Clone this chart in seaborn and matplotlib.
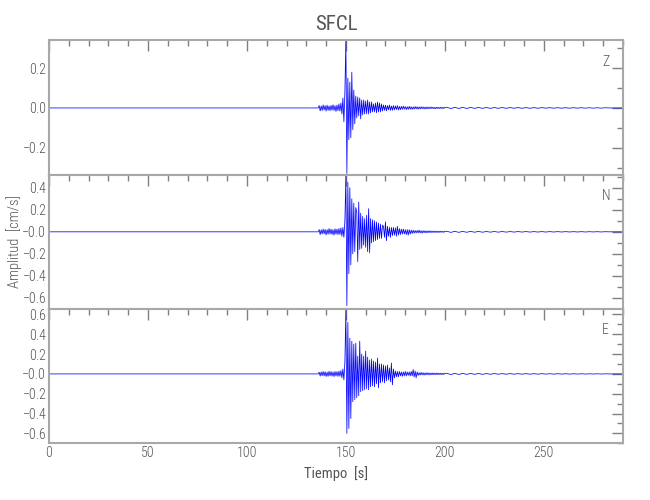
import numpy as np
import pandas as pd
import matplotlib
matplotlib.use("Agg")
import matplotlib.pyplot as plt
import seaborn as sns
from matplotlib import font_manager
from matplotlib.ticker import MultipleLocator, FixedLocator, FixedFormatter

# ---------------- data ----------------
station = "SFCL"
components = ["Z", "N", "E"]
x_label = "Tiempo  [s]"
y_label = "Amplitud  [cm/s]"

x_max = 290.0
record_start = 136.0        # flat (zero-padded) before this time
pre_t0, pre_step = 136.5, 0.5
main_t0, main_step = 148.5, 0.5
coda_t0, coda_step = 201.0, 2.0
record_end = 283.0

# pre-event noise (136.5 .. 148.0 s)
z_pre = [0.012, -0.015, 0.010, -0.013, 0.015, -0.010, 0.012, -0.016, 0.014, -0.012, 0.010, -0.014,
         0.013, -0.011, 0.016, -0.013, 0.012, -0.018, 0.015, -0.014, 0.020, -0.016, 0.025, -0.030]
n_pre = [0.020, -0.025, 0.018, -0.020, 0.025, -0.018, 0.022, -0.028, 0.020, -0.022, 0.030, -0.020,
         0.025, -0.024, 0.020, -0.030, 0.028, -0.022, 0.025, -0.026, 0.030, -0.025, 0.035, -0.040]
e_pre = [0.018, -0.022, 0.020, -0.018, 0.025, -0.020, 0.022, -0.026, 0.018, -0.024, 0.027, -0.020,
         0.024, -0.022, 0.020, -0.027, 0.025, -0.021, 0.024, -0.025, 0.028, -0.024, 0.035, -0.040]

# main phase (148.5 .. 200.0 s)
z_main = [0.05, -0.07, 0.08, 0.345, -0.33, 0.15, -0.16, 0.13, -0.15, 0.18,
          -0.11, 0.09, -0.08, 0.06, -0.05, 0.055, -0.04, 0.05, -0.055, 0.04,
          -0.035, 0.04, -0.03, 0.035, -0.03, 0.04, -0.03, 0.03, -0.025, 0.03,
          -0.02, 0.02, -0.02, 0.025, -0.024, 0.03, -0.02, 0.025, -0.02, 0.02,
          -0.015, 0.015, -0.012, 0.014, -0.015, 0.012, -0.01, 0.015, -0.012, 0.01,
          -0.012, 0.012, -0.01, 0.01, -0.008, 0.012, -0.01, 0.008, -0.009, 0.008,
          -0.007, 0.009, -0.006, 0.007, -0.008, 0.006, -0.007, 0.008, -0.006, 0.006,
          -0.007, 0.005, -0.006, 0.007, -0.005, 0.006, -0.006, 0.005, -0.005, 0.006,
          -0.004, 0.005, -0.005, 0.004, -0.005, 0.005, -0.004, 0.004, -0.004, 0.005,
          -0.003, 0.004, -0.004, 0.003, -0.004, 0.004, -0.003, 0.003, -0.003, 0.004,
          -0.003, 0.003, -0.003, 0.003]
n_main = [0.04, -0.05, 0.10, 0.515, -0.67, 0.45, -0.38, 0.40, -0.30, 0.30,
          -0.20, 0.26, -0.18, 0.22, 0.18, -0.27, 0.27, -0.16, 0.17, -0.15,
          0.14, -0.12, 0.12, -0.14, 0.15, -0.18, 0.21, -0.19, 0.12, -0.10,
          0.11, -0.09, 0.10, -0.08, 0.09, -0.07, 0.08, -0.06, 0.07, -0.06,
          0.06, 0.05, -0.05, 0.09, -0.08, 0.05, -0.04, 0.04, -0.05, 0.04,
          -0.035, 0.04, -0.03, 0.035, -0.04, 0.05, -0.03, 0.03, -0.025, 0.025,
          -0.02, 0.025, -0.02, 0.02, -0.025, 0.02, -0.03, 0.02, -0.02, 0.015,
          -0.015, 0.015, -0.012, 0.012, -0.01, 0.012, -0.01, 0.015, -0.01, 0.01,
          -0.012, 0.01, -0.008, 0.01, -0.009, 0.008, -0.008, 0.009, -0.007, 0.008,
          -0.007, 0.007, -0.006, 0.007, -0.006, 0.006, -0.006, 0.006, -0.005, 0.006,
          -0.005, 0.005, -0.005, 0.005]
e_main = [0.05, -0.06, 0.12, 0.655, -0.60, 0.52, -0.55, 0.36, -0.45, 0.33,
          -0.28, 0.30, -0.26, 0.31, -0.24, 0.18, -0.22, 0.33, -0.18, 0.20,
          -0.17, 0.18, -0.16, 0.23, -0.15, 0.17, -0.16, 0.14, -0.13, 0.15,
          -0.12, 0.13, -0.13, 0.12, -0.10, 0.16, -0.14, 0.10, -0.09, 0.10,
          -0.08, 0.09, -0.09, 0.08, -0.07, 0.09, -0.06, 0.06, -0.08, 0.11,
          -0.11, 0.05, -0.04, 0.03, -0.03, 0.025, -0.03, 0.025, -0.02, 0.02,
          -0.025, 0.02, -0.02, 0.025, -0.02, 0.02, -0.015, 0.02, -0.02, 0.025,
          -0.02, 0.045, -0.03, 0.03, -0.04, 0.02, -0.015, 0.012, -0.012, 0.015,
          -0.01, 0.012, -0.012, 0.01, -0.01, 0.012, -0.009, 0.01, -0.01, 0.009,
          -0.008, 0.01, -0.008, 0.008, -0.008, 0.009, -0.007, 0.008, -0.007, 0.007,
          -0.007, 0.007, -0.006, 0.006]

# late coda (201 .. 281 s, every 2 s)
z_coda = [0.003, -0.003, 0.003, -0.0025, 0.003, -0.0025, 0.0025, -0.002, 0.0025, -0.002,
          0.002, -0.002, 0.002, -0.0018, 0.002, -0.0018, 0.0018, -0.0015, 0.0018, -0.0015,
          0.0015, -0.0015, 0.0015, -0.0015, 0.0015, -0.0012, 0.0015, -0.0012, 0.0012, -0.0012,
          0.0012, -0.0012, 0.0012, -0.001, 0.0012, -0.001, 0.001, -0.001, 0.001, -0.001, 0.001]
n_coda = [0.005, -0.005, 0.0045, -0.0045, 0.004, -0.004, 0.004, -0.0035, 0.0035, -0.0035,
          0.003, -0.003, 0.003, -0.003, 0.0028, -0.0028, 0.0025, -0.0025, 0.0025, -0.0022,
          0.0022, -0.0022, 0.002, -0.002, 0.002, -0.002, 0.002, -0.0018, 0.0018, -0.0018,
          0.0018, -0.0015, 0.0015, -0.0015, 0.0015, -0.0015, 0.0012, -0.0012, 0.0012, -0.0012, 0.001]
e_coda = [0.006, -0.006, 0.005, -0.005, 0.005, -0.0045, 0.0045, -0.004, 0.004, -0.004,
          0.0035, -0.0035, 0.0035, -0.003, 0.003, -0.003, 0.003, -0.0028, 0.0028, -0.0025,
          0.0025, -0.0025, 0.0022, -0.0022, 0.0022, -0.002, 0.002, -0.002, 0.002, -0.0018,
          0.0018, -0.0018, 0.0015, -0.0015, 0.0015, -0.0015, 0.0012, -0.0012, 0.0012, -0.0012, 0.001]

# y ranges and tick labels per component
y_limits = {"Z": (-0.335, 0.342), "N": (-0.70, 0.52), "E": (-0.70, 0.655)}
z_ticks = [-0.2, 0.0, 0.2]
z_tick_labels = ["\u22120.2", "0.0", "0.2"]
n_ticks = [-0.6, -0.4, -0.2, 0.0, 0.2, 0.4]
n_tick_labels = ["\u22120.6", "\u22120.4", "\u22120.2", "\u22120.0", "0.2", "0.4"]
e_ticks = [-0.6, -0.4, -0.2, 0.0, 0.2, 0.4, 0.6]
e_tick_labels = ["\u22120.6", "\u22120.4", "\u22120.2", "\u22120.0", "0.2", "0.4", "0.6"]
x_ticks = [0, 50, 100, 150, 200, 250]
x_tick_labels = ["0", "50", "100", "150", "200", "250"]

# ---------------- assemble traces ----------------
def build_trace(pre, main, coda):
    t = np.concatenate([
        [0.0, record_start],
        pre_t0 + pre_step * np.arange(len(pre)),
        main_t0 + main_step * np.arange(len(main)),
        coda_t0 + coda_step * np.arange(len(coda)),
        [record_end, x_max],
    ])
    a = np.concatenate([[0.0, 0.0], pre, main, coda, [0.0, 0.0]])
    return pd.DataFrame({"t": t, "amp": a})

traces = {
    "Z": build_trace(z_pre, z_main, z_coda),
    "N": build_trace(n_pre, n_main, n_coda),
    "E": build_trace(e_pre, e_main, e_coda),
}
ticks = {"Z": (z_ticks, z_tick_labels), "N": (n_ticks, n_tick_labels), "E": (e_ticks, e_tick_labels)}

# ---------------- styling ----------------
sns.set_style("white")
# pick a narrow face if one is installed
installed = {f.name for f in font_manager.fontManager.ttflist}
narrow = [n for n in ["DejaVu Sans Condensed", "Liberation Sans Narrow", "Roboto Condensed",
                      "Open Sans Condensed", "Noto Sans Condensed"] if n in installed]
plt.rcParams["font.family"] = narrow + ["DejaVu Sans"]
plt.rcParams["font.stretch"] = "condensed"
plt.rcParams["font.weight"] = "light"
small = 9.0 if not narrow else 10.0

text_color = "#555555"
frame_color = "#a8a8a8"
tick_color = "#808080"

fig = plt.figure(figsize=(6.5, 5.0), dpi=100)
left, width = 0.0754, 0.883
bottoms = [0.651, 0.382, 0.1134]
heights = [0.269, 0.269, 0.2686]

axes = []
for i, comp in enumerate(components):
    ax = fig.add_axes([left, bottoms[i], width, heights[i]])
    sns.lineplot(data=traces[comp], x="t", y="amp", ax=ax, color="#0000ff",
                 linewidth=0.55, estimator=None, sort=False, legend=False)
    ax.set_xlim(0, x_max)
    ax.set_ylim(*y_limits[comp])
    tv, tl = ticks[comp]
    ax.yaxis.set_major_locator(FixedLocator(tv))
    ax.yaxis.set_major_formatter(FixedFormatter(tl))
    ax.yaxis.set_minor_locator(MultipleLocator(0.1))
    ax.xaxis.set_major_locator(FixedLocator(x_ticks))
    ax.xaxis.set_minor_locator(MultipleLocator(10))
    if i == len(components) - 1:
        ax.xaxis.set_major_formatter(FixedFormatter(x_tick_labels))
    ax.tick_params(which="both", direction="in", top=True, right=True,
                   color=tick_color, labelcolor=text_color, labelsize=small, pad=2,
                   labelbottom=(i == len(components) - 1))
    ax.tick_params(which="major", length=8, width=1.0)
    ax.tick_params(which="minor", length=4.5, width=1.0)
    ax.set_xlabel("")
    ax.set_ylabel("")
    for s in ax.spines.values():
        s.set_color(frame_color)
        s.set_linewidth(1.5)
    ax.text(0.970, 0.84, comp, transform=ax.transAxes, ha="center", va="center",
            color=text_color, fontsize=small)
    axes.append(ax)

axes[0].set_title(station, color=text_color, fontsize=15, pad=7)
axes[-1].set_xlabel(x_label, color=text_color, fontsize=small + 0.5, labelpad=4)
fig.text(0.022, 0.517, y_label, rotation=90, ha="center", va="center",
         color=text_color, fontsize=small + 0.5)

fig.savefig("out.png", dpi=100, facecolor="white")
